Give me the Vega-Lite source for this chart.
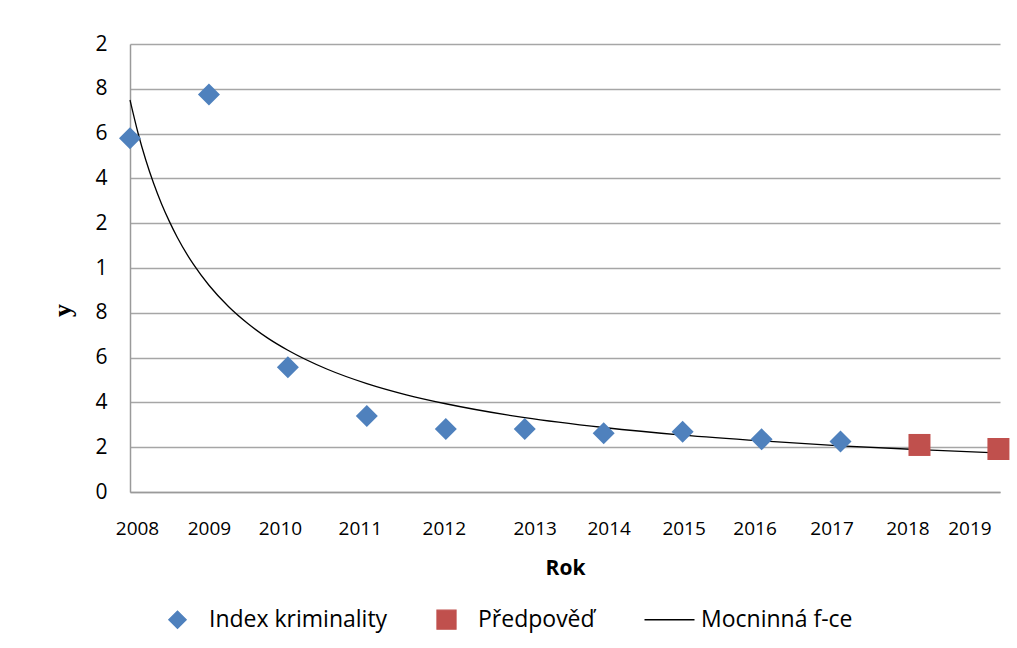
{
  "$schema": "https://vega.github.io/schema/vega-lite/v6.json",
  "width": 870,
  "height": 448,
  "autosize": {"type": "none"},
  "padding": {"left": 130, "top": 44, "right": 17, "bottom": 156},
  "background": "white",
  "config": {
    "view": {"stroke": null},
    "font": "Open Sans"
  },
  "datasets": {
    "body": [
      {"rok": 2008, "y": 15.79, "serie": "Index kriminality"},
      {"rok": 2009, "y": 17.75, "serie": "Index kriminality"},
      {"rok": 2010, "y": 5.57, "serie": "Index kriminality"},
      {"rok": 2011, "y": 3.39, "serie": "Index kriminality"},
      {"rok": 2012, "y": 2.81, "serie": "Index kriminality"},
      {"rok": 2013, "y": 2.81, "serie": "Index kriminality"},
      {"rok": 2014, "y": 2.62, "serie": "Index kriminality"},
      {"rok": 2015, "y": 2.69, "serie": "Index kriminality"},
      {"rok": 2016, "y": 2.35, "serie": "Index kriminality"},
      {"rok": 2017, "y": 2.25, "serie": "Index kriminality"},
      {"rok": 2018, "y": 2.1, "serie": "Předpověď"},
      {"rok": 2019, "y": 1.92, "serie": "Předpověď"}
    ],
    "krivka": [
      {"rok": 2008.0, "y": 17.5, "serie": "Mocninná f-ce"},
      {"rok": 2008.1, "y": 16.05, "serie": "Mocninná f-ce"},
      {"rok": 2008.2, "y": 14.82, "serie": "Mocninná f-ce"},
      {"rok": 2008.3, "y": 13.77, "serie": "Mocninná f-ce"},
      {"rok": 2008.4, "y": 12.86, "serie": "Mocninná f-ce"},
      {"rok": 2008.5, "y": 12.07, "serie": "Mocninná f-ce"},
      {"rok": 2008.6, "y": 11.36, "serie": "Mocninná f-ce"},
      {"rok": 2008.8, "y": 10.18, "serie": "Mocninná f-ce"},
      {"rok": 2009.0, "y": 9.23, "serie": "Mocninná f-ce"},
      {"rok": 2009.25, "y": 8.27, "serie": "Mocninná f-ce"},
      {"rok": 2009.5, "y": 7.5, "serie": "Mocninná f-ce"},
      {"rok": 2009.75, "y": 6.86, "serie": "Mocninná f-ce"},
      {"rok": 2010.0, "y": 6.33, "serie": "Mocninná f-ce"},
      {"rok": 2010.5, "y": 5.48, "serie": "Mocninná f-ce"},
      {"rok": 2011.0, "y": 4.84, "serie": "Mocninná f-ce"},
      {"rok": 2011.5, "y": 4.34, "serie": "Mocninná f-ce"},
      {"rok": 2012.0, "y": 3.94, "serie": "Mocninná f-ce"},
      {"rok": 2013.0, "y": 3.32, "serie": "Mocninná f-ce"},
      {"rok": 2014.0, "y": 2.88, "serie": "Mocninná f-ce"},
      {"rok": 2015.0, "y": 2.54, "serie": "Mocninná f-ce"},
      {"rok": 2016.0, "y": 2.28, "serie": "Mocninná f-ce"},
      {"rok": 2017.0, "y": 2.06, "serie": "Mocninná f-ce"},
      {"rok": 2018.0, "y": 1.89, "serie": "Mocninná f-ce"},
      {"rok": 2019.0, "y": 1.74, "serie": "Mocninná f-ce"}
    ]
  },
  "encoding": {
    "x": {
      "field": "rok",
      "type": "quantitative",
      "scale": {"domain": [2008, 2019.02], "nice": false, "zero": false},
      "axis": {
        "title": "Rok",
        "values": [2008, 2009, 2010, 2011, 2012, 2013, 2014, 2015, 2016, 2017, 2018, 2019],
        "format": "d",
        "grid": false,
        "ticks": false,
        "domainColor": "#9a9a9a",
        "domainWidth": 1.5,
        "labelFont": "Open Sans",
        "labelFontSize": 19,
        "labelColor": "black",
        "labelPadding": 27,
        "labelFlush": false,
        "labelOverlap": false,
        "labelOffset": {"expr": "datum.value == 2008 ? 7 : datum.value == 2010 ? -8 : datum.value == 2011 ? -7 : datum.value == 2012 ? -2 : datum.value == 2013 ? 10 : datum.value == 2014 ? 5 : datum.value == 2015 ? 1 : datum.value == 2016 ? -7 : datum.value == 2017 ? -9 : datum.value == 2018 ? -12 : datum.value == 2019 ? -29 : 0"},
        "titleFont": "Open Sans",
        "titleFontSize": 21,
        "titleFontWeight": "bold",
        "titleColor": "black",
        "titleBaseline": "middle",
        "titleY": 76
      }
    },
    "y": {
      "field": "y",
      "type": "quantitative",
      "scale": {"domain": [0, 20], "nice": false},
      "axis": {
        "title": "y",
        "values": [0, 2, 4, 6, 8, 10, 12, 14, 16, 18, 20],
        "labelExpr": "datum.value == 10 ? '1' : datum.value == 20 ? '2' : format(datum.value % 10, 'd')",
        "grid": true,
        "gridColor": "#a6a6a6",
        "gridWidth": 1.5,
        "ticks": false,
        "domainColor": "#9a9a9a",
        "domainWidth": 1.5,
        "labelFont": "Open Sans",
        "labelFontSize": 21,
        "labelColor": "black",
        "labelPadding": 23,
        "titleFont": "Liberation Serif",
        "titleFontSize": 26,
        "titleFontWeight": "bold",
        "titleColor": "black",
        "titleX": -68,
        "titleY": 266,
        "titleAngle": -90,
        "titleBaseline": "middle",
        "titleAlign": "center"
      }
    },
    "color": {
      "field": "serie",
      "type": "nominal",
      "scale": {
        "domain": ["Index kriminality", "Předpověď", "Mocninná f-ce"],
        "range": ["#4F81BD", "#C0504D", "#000000"]
      },
      "legend": {
        "title": null,
        "orient": "none",
        "direction": "horizontal",
        "legendX": 36,
        "legendY": 564,
        "padding": 0,
        "symbolSize": 2500,
        "symbolStrokeWidth": 1.3,
        "labelFont": "Open Sans",
        "labelFontSize": 23,
        "labelColor": "black",
        "labelOffset": 20,
        "columnPadding": 46,
        "labelLimit": 400,
        "encode": {
          "symbols": {
            "update": {
              "size": {"signal": "datum.value === 'Mocninná f-ce' ? 2500 : datum.value === 'Předpověď' ? 361 : 300"},
              "stroke": {"signal": "datum.value === 'Mocninná f-ce' ? 'black' : 'transparent'"},
              "fill": {"signal": "datum.value === 'Mocninná f-ce' ? 'transparent' : datum.value === 'Předpověď' ? '#C0504D' : '#4F81BD'"},
              "strokeWidth": {"value": 1.3},
              "opacity": {"value": 1}
            }
          }
        }
      }
    }
  },
  "layer": [
    {
      "data": {"name": "krivka"},
      "mark": {"type": "line", "strokeWidth": 1.3, "interpolate": "monotone"},
      "encoding": {}
    },
    {
      "data": {"name": "body"},
      "mark": {"type": "point", "filled": true, "opacity": 1, "size": 484, "strokeWidth": 0},
      "encoding": {
        "shape": {
          "field": "serie",
          "type": "nominal",
          "scale": {
            "domain": ["Index kriminality", "Předpověď", "Mocninná f-ce"],
            "range": ["diamond", "square", "stroke"]
          },
          "legend": {
            "title": null,
            "orient": "none",
            "direction": "horizontal",
            "legendX": 36,
            "legendY": 564,
            "padding": 0,
            "symbolSize": 2500,
            "labelFont": "Open Sans",
            "labelFontSize": 23,
            "labelOffset": 20,
            "columnPadding": 46,
            "labelLimit": 400
          }
        }
      }
    }
  ]
}
